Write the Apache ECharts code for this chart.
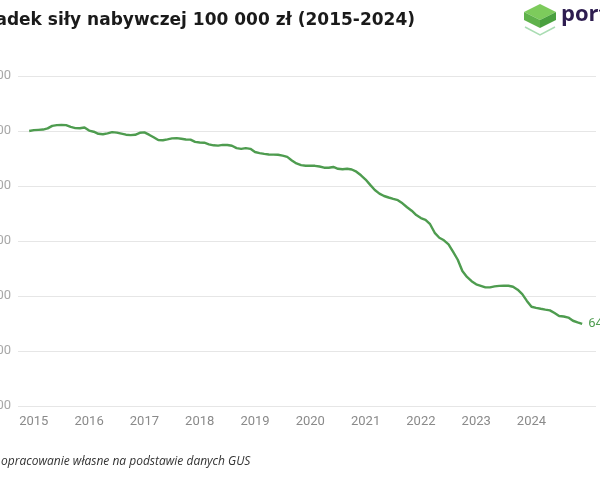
<!DOCTYPE html>
<html>
<head>
<meta charset="utf-8">
<script src="https://cdn.jsdelivr.net/npm/echarts@6/dist/echarts.min.js"></script>
<style>
html,body{margin:0;padding:0;background:#fff;}
#c{width:600px;height:480px;}
</style>
</head>
<body>
<div id="c"></div>
<script>
// Data: purchasing power of 100 000 zł, monthly from Dec 2014 to Dec 2024
const titleText = 'Spadek siły nabywczej 100 000 zł (2015-2024)';
const sourceText = 'opracowanie własne na podstawie danych GUS';
const logoText = 'port';
const firstMonthOffset = -1; // Dec 2014 relative to Jan 2015
const yearLabels = ['2015','2016','2017','2018','2019','2020','2021','2022','2023','2024'];
const yTicks = [50000, 60000, 70000, 80000, 90000, 100000, 110000];
const values = [
  100000, 100160, 100210, 100260, 100470, 100930, 101070, 101090, 101070, 100750, 100530, 100510,
  100640, 100070, 99870, 99490, 99400, 99560, 99800, 99710, 99530, 99330, 99250, 99310,
  99670, 99750, 99330, 98850, 98350, 98310, 98470, 98650, 98710, 98580, 98450, 98440,
  98020, 97910, 97870, 97580, 97400, 97350, 97470, 97450, 97310, 96890, 96760, 96890,
  96760, 96180, 95980, 95840, 95730, 95710, 95690, 95530, 95290, 94650, 94110, 93800,
  93690, 93710, 93670, 93550, 93330, 93310, 93460, 93130, 93040, 93130, 93000, 92600,
  91950, 91180, 90200, 89270, 88620, 88180, 87910, 87650, 87420, 86850, 86130, 85510,
  84710, 84180, 83850, 83050, 81490, 80600, 80130, 79380, 78020, 76590, 74550, 73460,
  72690, 72130, 71850, 71560, 71560, 71750, 71840, 71870, 71870, 71690, 71150, 70330,
  69110, 68040, 67840, 67680, 67530, 67390, 66910, 66370, 66280, 66080, 65500, 65200,
  64940
];

const fmt = v => String(Math.round(v)).replace(/\B(?=(\d{3})+(?!\d))/g, ' ');
const seriesData = values.map((v, i) => [i + firstMonthOffset, v]);
const labelPositions = yearLabels.map((y, k) => k * 12);

const chart = echarts.init(document.getElementById('c'), null, {renderer: 'canvas'});
const green = '#4e9c4f';
chart.setOption({
  animation: false,
  backgroundColor: '#ffffff',
  title: {
    text: titleText,
    left: -34,
    top: 7,
    textStyle: {fontFamily: 'DejaVu Sans', fontWeight: 'bold', fontSize: 17, color: '#1a1a1a'}
  },
  graphic: [
    {type: 'polygon', shape: {points: [[540,4],[556,12],[540,20],[524,12]]}, style: {fill: '#7dcb5c'}},
    {type: 'polygon', shape: {points: [[524,12],[540,20],[540,28],[524,20]]}, style: {fill: '#5fb24b'}},
    {type: 'polygon', shape: {points: [[540,20],[556,12],[556,20],[540,28]]}, style: {fill: '#4aa03f'}},
    {type: 'polyline', shape: {points: [[525,27],[540,35],[555,27]]}, style: {stroke: '#a9dcb2', lineWidth: 1.5, fill: null}},
    {type: 'text', left: 561, top: 4, style: {text: logoText, fontFamily: 'Open Sans', fontWeight: 'bold', fontSize: 22, fill: '#2e1d50'}},
    {type: 'text', left: 1, top: 456, style: {text: sourceText, fontFamily: 'Open Sans', fontStyle: 'italic', fontSize: 12, fill: '#333'}}
  ],
  grid: {left: 18, right: 4, top: 76, bottom: 74, containLabel: false, outerBoundsMode: 'none'},
  xAxis: {
    type: 'value',
    min: -3.43,
    max: 122,
    axisLine: {show: false},
    axisTick: {show: false},
    splitLine: {show: false},
    axisLabel: {
      customValues: labelPositions,
      formatter: v => yearLabels[Math.round(v / 12)] || '',
      color: '#8a8a8a',
      fontFamily: 'Roboto',
      fontSize: 13,
      margin: 9
    }
  },
  yAxis: {
    type: 'value',
    min: yTicks[0],
    max: yTicks[yTicks.length - 1],
    interval: 10000,
    axisLine: {show: false},
    axisTick: {show: false},
    splitLine: {lineStyle: {color: '#e6e6e6', width: 1}},
    axisLabel: {
      formatter: v => fmt(v),
      color: '#a8a8a8',
      fontFamily: 'Roboto',
      fontSize: 13,
      margin: 7
    }
  },
  series: [{
    type: 'line',
    data: seriesData,
    showSymbol: false,
    symbol: 'none',
    lineStyle: {color: green, width: 2.4},
    itemStyle: {color: green},
    endLabel: {
      show: true,
      formatter: p => fmt(p.value[1]),
      color: green,
      fontFamily: 'Roboto',
      fontSize: 13,
      distance: 6
    }
  }]
});
</script>
</body>
</html>
